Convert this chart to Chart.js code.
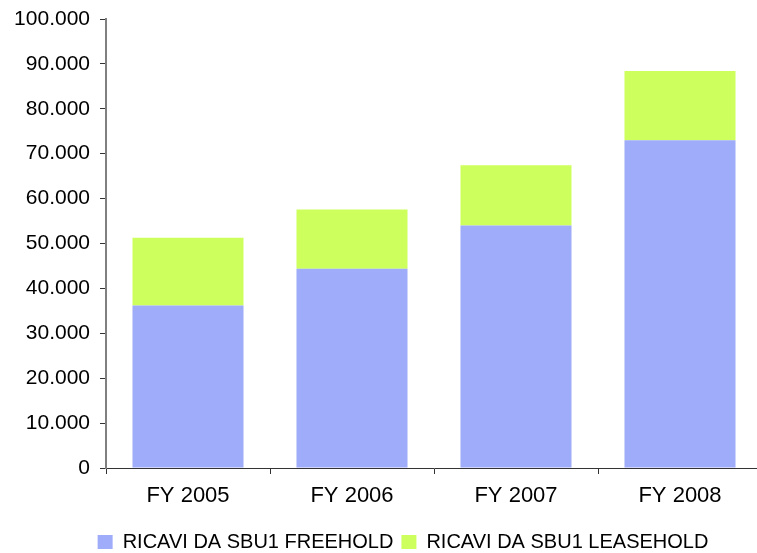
<!DOCTYPE html>
<html>
<head>
<meta charset="utf-8">
<script src="https://cdn.jsdelivr.net/npm/chart.js@4"></script>
<style>
  html, body { margin: 0; padding: 0; overflow: hidden; background: #fff; }
  #wrap { width: 762px; height: 553px; }
</style>
</head>
<body>
<div id="wrap"><canvas id="c" width="762" height="553"></canvas></div>
<script>
// Revenue by fiscal year, split by segment
const categories = ['FY 2005', 'FY 2006', 'FY 2007', 'FY 2008'];
const freehold = [36200, 44400, 54000, 73000];
const leasehold = [15100, 13200, 13400, 15400];
const seriesNames = ['RICAVI DA SBU1 FREEHOLD', 'RICAVI DA SBU1 LEASEHOLD'];
const yTickLabels = ['0', '10.000', '20.000', '30.000', '40.000', '50.000',
                     '60.000', '70.000', '80.000', '90.000', '100.000'];

const FONT = 'Liberation Sans, Arial, sans-serif';

// nudges the bottom legend so it sits under the plot the way the layout wants
const legendNudge = {
  id: 'legendNudge',
  afterLayout(chart) {
    const lg = chart.legend;
    if (!lg) return;
    lg.left += 22; lg.right += 22;
    lg.top += 9; lg.bottom += 9;
  }
};

new Chart(document.getElementById('c'), {
  type: 'bar',
  data: {
    labels: categories,
    datasets: [
      { label: seriesNames[0], data: freehold, backgroundColor: '#9FACF9' },
      { label: seriesNames[1], data: leasehold, backgroundColor: '#CDFF5D' }
    ]
  },
  options: {
    responsive: false,
    animation: false,
    events: [],
    barPercentage: 0.677,
    categoryPercentage: 1,
    layout: { padding: { top: 19, left: 0, right: 0, bottom: 0 } },
    scales: {
      x: {
        stacked: true,
        grid: { offset: true, drawOnChartArea: false, drawTicks: true, tickLength: 6, color: '#333', lineWidth: 1 },
        border: { display: true, color: '#333', width: 1 },
        ticks: { color: '#000', font: { family: FONT, size: 22 }, padding: 9, maxRotation: 0 },
        afterFit(s) { s.height = 47; }
      },
      y: {
        stacked: true,
        min: 0, max: 100000,
        grid: { drawOnChartArea: false, drawTicks: true, tickLength: 6, color: '#333', lineWidth: 1 },
        border: { display: true, color: '#808080', width: 2 },
        ticks: {
          stepSize: 10000,
          color: '#000',
          font: { family: FONT, size: 21 },
          padding: 10,
          callback: (v, i) => yTickLabels[i]
        },
        afterFit(s) { s.width = 106; s.paddingTop = 0; s.paddingBottom = 0; }
      }
    },
    plugins: {
      tooltip: { enabled: false },
      legend: {
        position: 'bottom',
        labels: {
          boxWidth: 15, boxHeight: 14, padding: 8,
          color: '#000',
          font: { family: FONT, size: 20 }
        }
      }
    }
  },
  plugins: [legendNudge]
});
</script>
</body>
</html>
